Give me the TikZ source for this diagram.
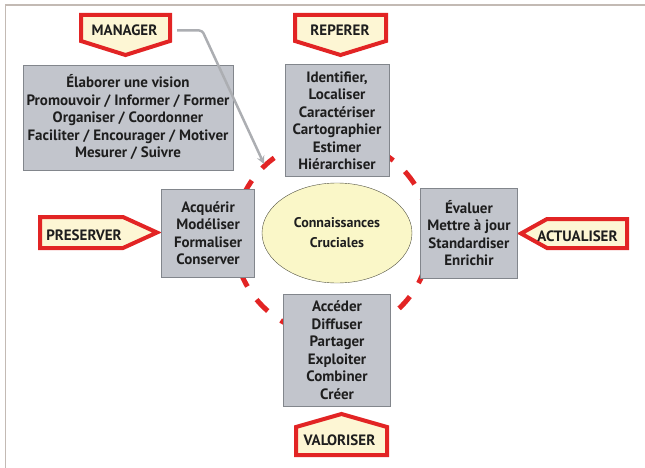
\documentclass[tikz,border=0pt]{standalone}
\usepackage{fontspec}
\setmainfont{PT Sans}
\usetikzlibrary{shapes.geometric, arrows, positioning, calc}

\definecolor{boxgray}{RGB}{194,197,204}
\definecolor{boxline}{RGB}{130,134,140}
\definecolor{ovalfill}{RGB}{250,247,200}
\definecolor{ovalline}{RGB}{80,80,65}
\definecolor{tagfill}{RGB}{253,246,212}
\definecolor{tagred}{RGB}{226,36,36}
\definecolor{framegray}{RGB}{195,186,180}
\definecolor{pointer}{RGB}{172,174,178}
\definecolor{inkdark}{RGB}{30,30,30}

\begin{document}
\begin{tikzpicture}[
    x=1pt, y=-1pt,
    every node/.style={font=\fontsize{15}{17.5}\selectfont\bfseries, text=inkdark},
    action/.style={rectangle, draw=boxline, fill=boxgray, align=center, inner sep=2pt},
    core/.style={ellipse, draw=ovalline, fill=ovalfill, align=center, minimum width=150pt, minimum height=100pt, font=\fontsize{14}{20}\selectfont\bfseries},
    tag/.style={rectangle, inner sep=0pt},
    tagframe/.style={draw=tagred, line width=4pt, fill=tagfill, line join=miter},
    ring/.style={draw=tagred, line width=5pt, dash pattern=on 16pt off 16pt},
    pointerline/.style={draw=pointer, line width=2.5pt, -stealth, rounded corners=3pt, shorten <=6pt}
]
    \useasboundingbox (0,0) rectangle (645,468);
    \draw[framegray, line width=1.5pt] (5.5,468) -- (5.5,5) -- (645,5);

    \coordinate (ringc) at (332,237);
    \draw[ring] (ringc) circle[radius=98];

    \draw[tagframe] (81,15) -- (170,15) -- (170,41) -- (125.5,55) -- (81,41) -- cycle;
    \draw[tagframe] (295,15) -- (386,15) -- (386,41) -- (340.5,55) -- (295,41) -- cycle;
    \draw[tagframe] (40,217) -- (123,217) -- (157,232.5) -- (123,248) -- (40,248) -- cycle;
    \draw[tagframe] (521,233.5) -- (547,219) -- (627,219) -- (627,248) -- (547,248) -- cycle;
    \draw[tagframe] (296,455) -- (296,427) -- (341.5,414) -- (387,427) -- (387,455) -- cycle;

    \node[core] (core) at (337,233) {Connaissances\\Cruciales};

    \node[action, minimum width=104pt, minimum height=112pt, above=6pt of core] (reperage)
        {Identifier,\\Localiser\\Caractériser\\Cartographier\\Estimer\\Hiérarchiser};
    \node[action, minimum width=107pt, minimum height=112pt, below=11pt of core] (valorisation)
        {Accéder\\Diffuser\\Partager\\Exploiter\\Combiner\\Créer};
    \node[action, minimum width=93pt, minimum height=88pt, left=7pt of core] (preservation)
        {Acquérir\\Modéliser\\Formaliser\\Conserver};
    \node[action, minimum width=97pt, minimum height=90pt, right=8pt of core] (actualisation)
        {Évaluer\\Mettre à jour\\Standardiser\\Enrichir};
    \node[action, minimum width=210pt, minimum height=105pt] (management) at (128,117.5)
        {Élaborer une vision\\Promouvoir / Informer / Former\\Organiser / Coordonner\\Faciliter / Encourager / Motiver\\Mesurer / Suivre};

    \node[tag, minimum width=93pt] (manager) at (124.5,30.5) {MANAGER};
    \node[tag] (reperer) at (340,30.5) {REPERER};
    \node[tag] (preserver) at (84,235) {PRESERVER};
    \node[tag] (actualiser) at (577.5,236) {ACTUALISER};
    \node[tag] (valoriser) at (339.5,440) {VALORISER};

    \coordinate (mtip) at (264,164);
    \draw[pointerline] (manager.east) -- ++(31,0) -- (mtip);
\end{tikzpicture}
\end{document}
